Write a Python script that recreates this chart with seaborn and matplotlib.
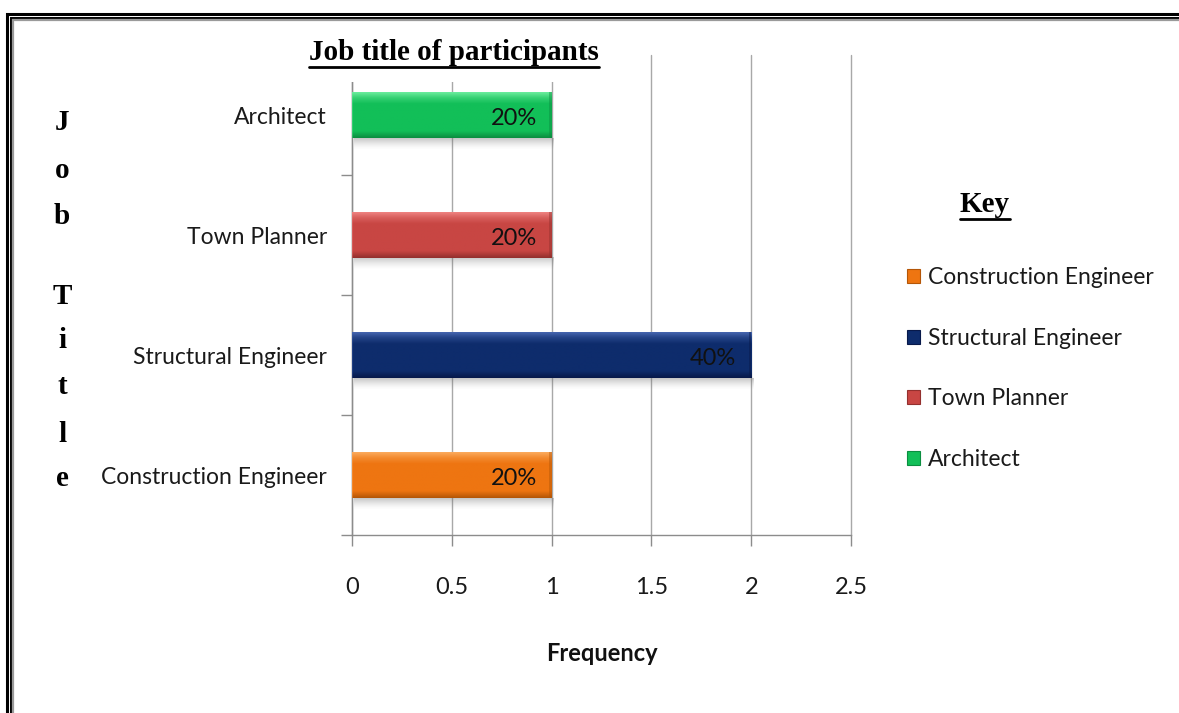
import numpy as np
import pandas as pd
import matplotlib
matplotlib.use("Agg")
import matplotlib.pyplot as plt
import matplotlib.colors as mcolors
from matplotlib.patches import Patch, Rectangle
from matplotlib.lines import Line2D
import seaborn as sns

# ---- data ----
job_titles = ["Architect", "Town Planner", "Structural Engineer", "Construction Engineer"]
frequency = [1, 1, 2, 1]
legend_order = ["Construction Engineer", "Structural Engineer", "Town Planner", "Architect"]
x_ticks = [0, 0.5, 1, 1.5, 2, 2.5]
x_tick_labels = ["0", "0.5", "1", "1.5", "2", "2.5"]

# base / highlight / shade tones for each bar
bar_colors = {
    "Architect": ("#12BF58", "#6AEC9C", "#0B8E40"),
    "Town Planner": ("#C84643", "#EE8280", "#93302E"),
    "Structural Engineer": ("#0E2C6C", "#4565AE", "#08194A"),
    "Construction Engineer": ("#EE7511", "#FBAA5C", "#B45607"),
}

sns.set_theme(style="white")
label_font = ["Lato", "DejaVu Sans"]
serif_font = ["Liberation Serif", "DejaVu Serif"]
plt.rcParams["font.family"] = label_font

df = pd.DataFrame({"job": job_titles, "freq": frequency})
total = df["freq"].sum()
df["pct"] = df["freq"] / total * 100

fig = plt.figure(figsize=(11.79, 7.13), dpi=100)
ax = fig.add_axes([352 / 1179, 1 - 535 / 713, (851 - 352) / 1179, (535 - 55) / 713])

palette = {k: v[0] for k, v in bar_colors.items()}
sns.barplot(data=df, x="freq", y="job", hue="job", order=job_titles,
            palette=palette, orient="h", width=0.38, legend=False,
            edgecolor="none", ax=ax, zorder=3)

ax.set_xlim(0, 2.5)
ax.set_ylim(3.5, -0.5)

# bevelled look: vertical gradient over each bar plus a soft drop shadow
for patch, job in zip(ax.patches, job_titles):
    x0, y0 = patch.get_x(), patch.get_y()
    w, h = patch.get_width(), patch.get_height()
    base, light, dark = [np.array(mcolors.to_rgb(c)) for c in bar_colors[job]]
    n = 64
    t = np.linspace(0, 1, n)
    grad = np.zeros((n, 1, 3))
    for i, v in enumerate(t):
        if v < 0.12:
            c = light + (base - light) * (v / 0.12) * 0.6
        elif v < 0.25:
            c = light * 0.4 + base * 0.6 + (base - (light * 0.4 + base * 0.6)) * ((v - 0.12) / 0.13)
        elif v < 0.85:
            c = base
        else:
            c = base + (dark - base) * ((v - 0.85) / 0.15)
        grad[i, 0] = c
    im = ax.imshow(grad, extent=(x0, x0 + w, y0 + h, y0), origin="upper",
                   aspect="auto", zorder=3.5, interpolation="bilinear")
    im.set_clip_path(patch)
    # end caps
    cap = 0.012
    ax.add_patch(Rectangle((x0 + w - cap, y0), cap, h, color=dark, alpha=0.45, zorder=3.6, lw=0))
    ax.add_patch(Rectangle((x0, y0), cap * 0.6, h, color=light, alpha=0.35, zorder=3.6, lw=0))
    # shadow
    sh = np.zeros((32, 1, 4))
    sh[..., :3] = 0.45
    sh[:, 0, 3] = np.linspace(0.55, 0.0, 32) ** 1.5
    ax.imshow(sh, extent=(x0 + 0.01, x0 + w + 0.01, y0 + h + 0.1, y0 + h),
              origin="upper", aspect="auto", zorder=2.5, interpolation="bilinear")

ax.set_xlim(0, 2.5)
ax.set_ylim(3.5, -0.5)

# percentage labels inside bar ends
for i, row in df.iterrows():
    ax.text(row["freq"] - 0.075, i + 0.03, f"{row['pct']:.0f}%", ha="right", va="center",
            fontsize=17, color="#111111", zorder=5, family=label_font)

# grid and axes styling
ax.set_xticks(x_ticks)
ax.set_xticklabels(x_tick_labels, fontsize=17, color="#1a1a1a")
ax.xaxis.grid(True, color="#A8A8A8", lw=1, zorder=0)
for gl in ax.get_xgridlines():
    gl.set_clip_on(False)
ax.yaxis.grid(False)
ax.set_axisbelow(True)
for s in ["top", "right"]:
    ax.spines[s].set_visible(False)
for s in ["left", "bottom"]:
    ax.spines[s].set_color("#8C8C8C")
    ax.spines[s].set_linewidth(1)
ax.tick_params(axis="x", which="major", length=8, width=1, color="#8C8C8C",
               direction="out", pad=22, bottom=True)
ax.set_yticks(range(len(job_titles)))
ax.set_yticklabels(job_titles, fontsize=16.5, color="#1a1a1a")
ax.tick_params(axis="y", which="major", length=0, pad=18)
ax.set_yticks([0.5, 1.5, 2.5, 3.5], minor=True)
ax.tick_params(axis="y", which="minor", length=8, width=1, color="#8C8C8C", direction="out", left=True)
ax.set_xlabel("Frequency", fontsize=17, fontweight="bold", color="#111111", labelpad=32)
ax.set_ylabel("")

# title with white box over the grid
title = fig.text(454 / 1179, 1 - 52 / 713, "Job title of participants", ha="center", va="center",
                 fontsize=21, fontweight="bold", family=serif_font, color="black",
                 bbox=dict(facecolor="white", edgecolor="none", pad=12), zorder=10)

# vertical axis caption, letter by letter
letters = [("J", 122), ("o", 170), ("b", 216), ("T", 296), ("i", 341), ("t", 387), ("l", 434), ("e", 478)]
for ch, yp in letters:
    fig.text(62 / 1179, 1 - yp / 713, ch, ha="center", va="center", fontsize=21,
             fontweight="bold", family=serif_font, color="black")

# legend
key = fig.text(985 / 1179, 1 - 204 / 713, "Key", ha="center", va="center", fontsize=21,
               fontweight="bold", family=serif_font, color="black")
handles = [Patch(facecolor=bar_colors[k][0], edgecolor=bar_colors[k][2], lw=0.8) for k in legend_order]
leg = fig.legend(handles, legend_order, loc="upper left", bbox_to_anchor=(896 / 1179, 1 - 256 / 713),
                 frameon=False, fontsize=16.5, handlelength=0.55, handleheight=0.55,
                 handletextpad=0.35, labelspacing=1.72, borderpad=0)
for txt in leg.get_texts():
    txt.set_color("#1a1a1a")

# underline title and key
fig.canvas.draw()
renderer = fig.canvas.get_renderer()
for t in (title, key):
    bb = t.get_window_extent(renderer).transformed(fig.transFigure.inverted())
    yline = bb.y0 - 1 / 713
    fig.add_artist(Line2D([bb.x0, bb.x1], [yline, yline], transform=fig.transFigure,
                          color="black", lw=2, zorder=11))

# page frame (double rule on top and left)
for xs, ys, lw, col in [
    ([7 / 1179, 7 / 1179, 1.0], [0, 1 - 14 / 713, 1 - 14 / 713], 2.2, "black"),
    ([11 / 1179, 11 / 1179, 1.0], [0, 1 - 17.5 / 713, 1 - 17.5 / 713], 1.4, "black"),
    ([13 / 1179, 13 / 1179, 1.0], [0, 1 - 19.5 / 713, 1 - 19.5 / 713], 1.6, "#9A9A9A"),
]:
    fig.add_artist(Line2D(xs, ys, transform=fig.transFigure, color=col, lw=lw,
                          solid_joinstyle="miter"))

fig.savefig("out.png", dpi=100, facecolor="white")
